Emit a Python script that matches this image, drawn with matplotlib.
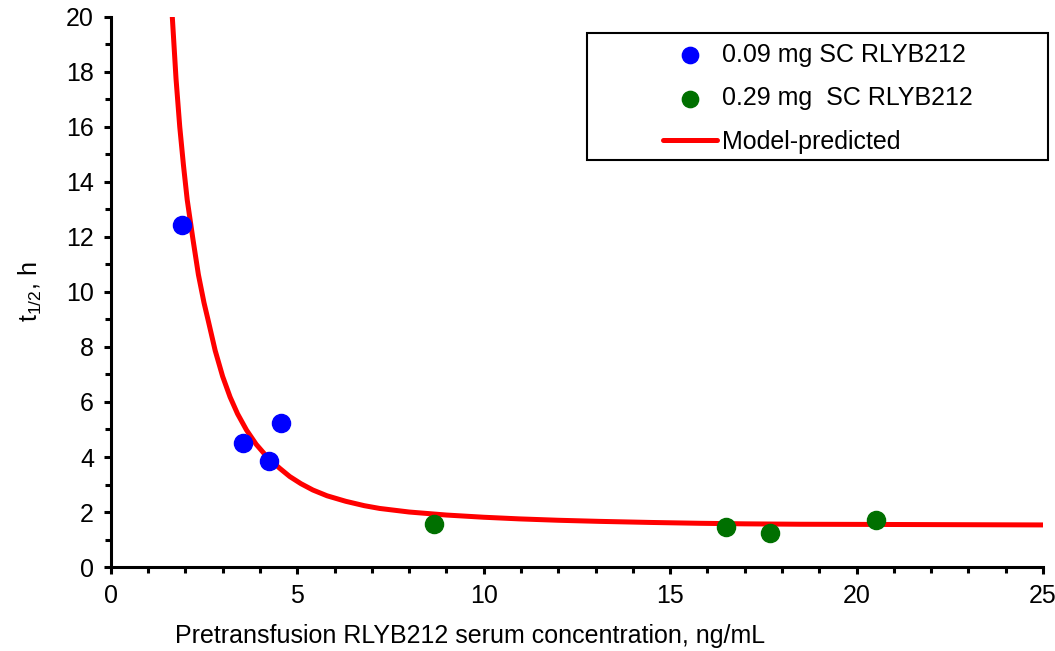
import matplotlib.pyplot as plt
from matplotlib.patches import Rectangle
from matplotlib.ticker import MultipleLocator

plt.rcParams['font.family'] = ['Liberation Sans', 'DejaVu Sans']

# observed half-lives
x_low = [1.90, 3.54, 4.24, 4.56]
y_low = [12.44, 4.51, 3.85, 5.24]
x_high = [8.66, 16.49, 17.69, 20.51]
y_high = [1.55, 1.45, 1.23, 1.71]

# model curve
x_model = [1.65, 1.75, 1.85, 1.95, 2.05, 2.2, 2.35, 2.5, 2.61, 2.8, 3.0, 3.2,
           3.4, 3.64, 3.9, 4.2, 4.53, 4.8, 5.1, 5.42, 5.8, 6.3, 6.8, 7.21,
           8.0, 9.0, 10.0, 10.96, 12.0, 13.1, 14.5, 15.8, 17.0, 18.5, 20.0,
           22.5, 25.0]
y_model = [20.0, 17.75, 16.0, 14.6, 13.35, 11.95, 10.63, 9.61, 8.98, 7.87,
           6.93, 6.18, 5.57, 4.98, 4.46, 3.99, 3.59, 3.29, 3.03, 2.80, 2.59,
           2.39, 2.23, 2.13, 2.00, 1.89, 1.81, 1.75, 1.70, 1.66, 1.62, 1.59,
           1.57, 1.555, 1.55, 1.54, 1.53]

fig = plt.figure(figsize=(10.55, 6.51), dpi=100)
ax = fig.add_axes([0.105, 0.129, 0.8836, 0.845])

ax.plot(x_model, y_model, color='#ff0000', lw=3.6, label='Model-predicted',
        solid_capstyle='round', solid_joinstyle='round', zorder=2)
ax.scatter(x_low, y_low, s=170, color='#0000ff', label='0.09 mg SC RLYB212', zorder=3)
ax.scatter(x_high, y_high, s=170, color='#007000', label='0.29 mg  SC RLYB212', zorder=3)

ax.set_xlim(0, 25)
ax.set_ylim(0, 20)
ax.xaxis.set_major_locator(MultipleLocator(5))
ax.xaxis.set_minor_locator(MultipleLocator(1))
ax.yaxis.set_major_locator(MultipleLocator(2))
ax.yaxis.set_minor_locator(MultipleLocator(1))
for s in ['top', 'right']:
    ax.spines[s].set_visible(False)
for s in ['left', 'bottom']:
    ax.spines[s].set_linewidth(2.2)
ax.tick_params(which='major', direction='out', length=5, width=2.2, labelsize=18, pad=7)
ax.tick_params(which='minor', direction='out', length=4, width=2.2)

ax.set_xlabel('Pretransfusion RLYB212 serum concentration, ng/mL', fontsize=18)
ax.xaxis.set_label_coords(0.385, -0.104)
ax.set_ylabel(r'$\mathregular{t_{1/2}}$, h', fontsize=18, labelpad=16)

handles, labels = ax.get_legend_handles_labels()
order = [1, 2, 0]
leg = ax.legend([handles[i] for i in order], [labels[i] for i in order],
                loc='upper left', bbox_to_anchor=(663 / 1055, 1 - 43 / 651),
                bbox_transform=fig.transFigure, fontsize=18, frameon=False,
                borderpad=0, borderaxespad=0, handlelength=2.16,
                handletextpad=0.2, labelspacing=0.77, markerscale=0.9)

fig.patches.append(Rectangle((587 / 1055, 1 - 160 / 651), 461 / 1055, 127 / 651,
                             transform=fig.transFigure, fill=False,
                             edgecolor='black', lw=1.5, zorder=5))

fig.savefig('out.png', dpi=100)
